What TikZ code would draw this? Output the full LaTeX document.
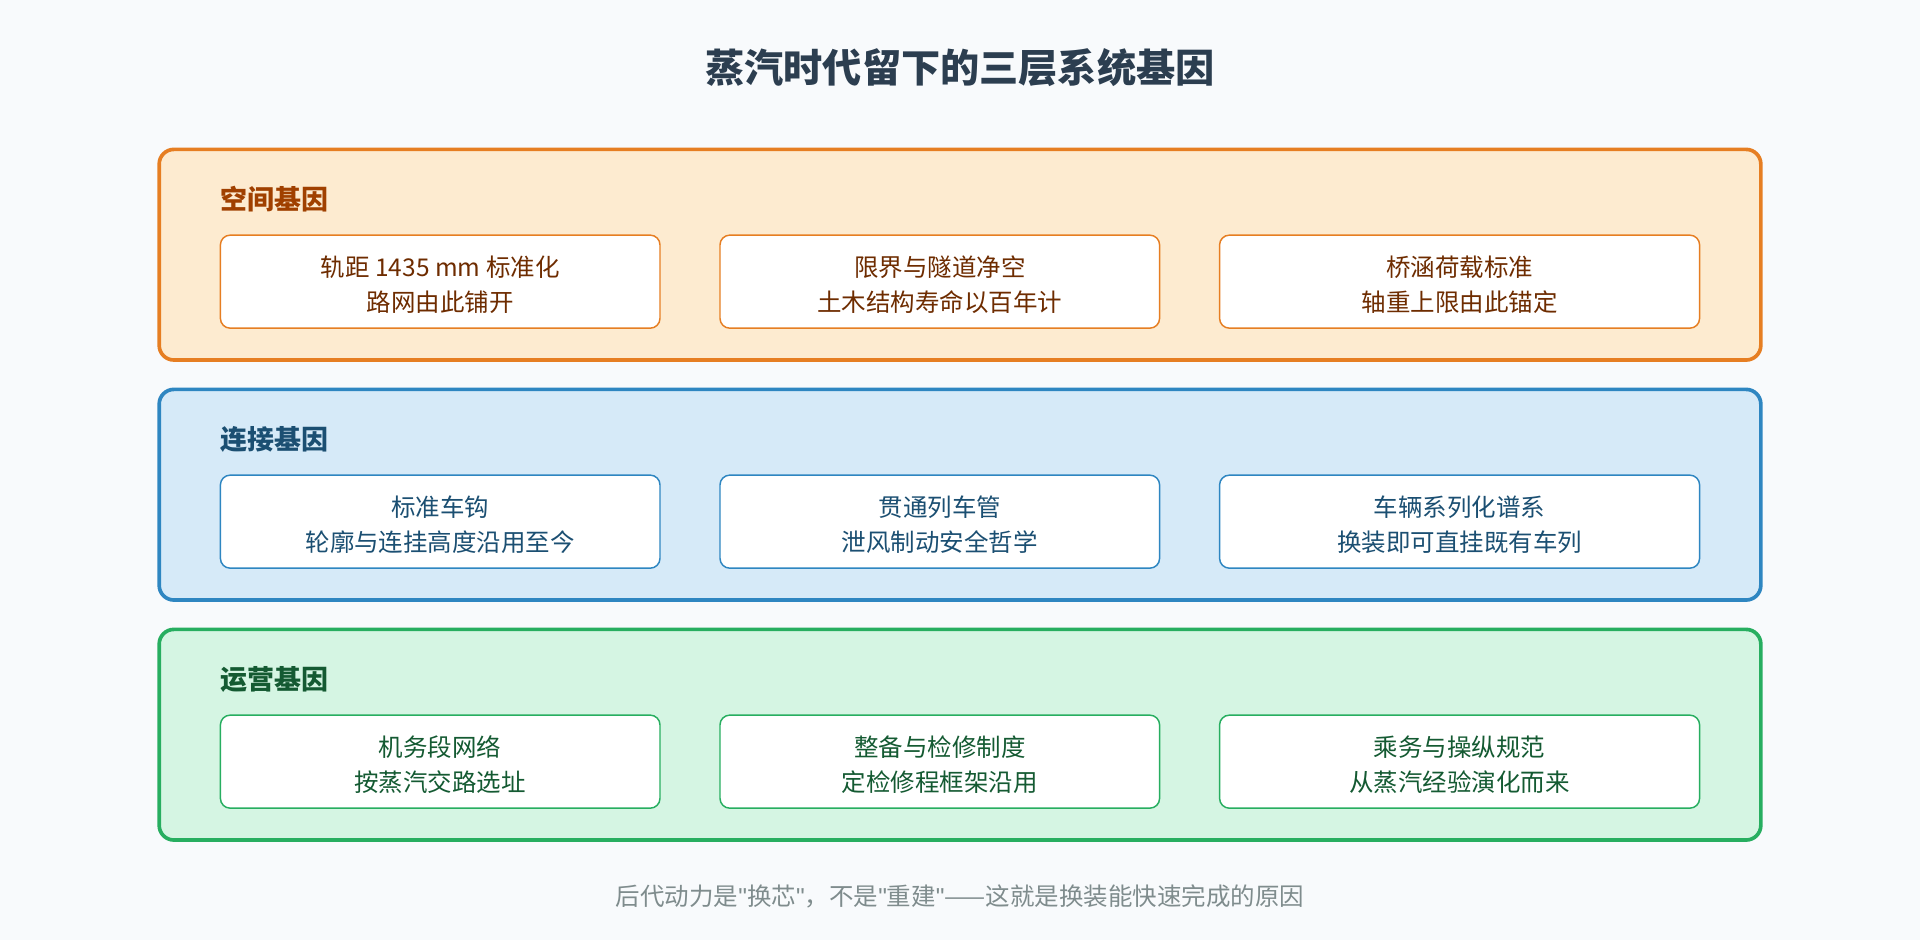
\documentclass[tikz,border=0pt]{standalone}
\usepackage{fontspec}
\setmainfont{Noto Sans CJK SC}
\newfontfamily\latinf{Liberation Sans}
\definecolor{bgc}{HTML}{F8FAFC}
\definecolor{titlec}{HTML}{2C3E50}
\definecolor{orb}{HTML}{E67E22}
\definecolor{orf}{HTML}{FDEBD0}
\definecolor{ort}{HTML}{A04000}
\definecolor{orx}{HTML}{6E2C00}
\definecolor{blb}{HTML}{2E86C1}
\definecolor{blf}{HTML}{D6EAF8}
\definecolor{blt}{HTML}{1B4F72}
\definecolor{grb}{HTML}{27AE60}
\definecolor{grf}{HTML}{D5F5E3}
\definecolor{grt}{HTML}{145A32}
\definecolor{footc}{HTML}{7F8C8D}
\newcommand{\qt}{{\latinf"}}
\tikzset{
  panel/.style={draw=#1, line width=1.5pt, rounded corners=6pt},
  item/.style={draw=#1, fill=white, line width=0.6pt, rounded corners=4pt},
  plabel/.style={anchor=west, font=\bfseries\fontsize{11}{13}\selectfont},
  itext/.style={font=\fontsize{10}{12}\selectfont},
}
\begin{document}
\begin{tikzpicture}[x=0.5pt,y=-0.5pt]
    \fill[bgc] (0,0) rectangle (1568,768);
    \node[font=\bfseries\fontsize{16}{19}\selectfont, text=titlec] (title) at (784,55) {蒸汽时代留下的三层系统基因};

    % panels
    \draw[panel=orb, fill=orf] (130,122) rectangle (1438,294);
    \draw[panel=blb, fill=blf] (130,318) rectangle (1438,490);
    \draw[panel=grb, fill=grf] (130,514) rectangle (1438,686);
    \node[plabel, text=ort] (space) at (173,163) {空间基因};
    \node[plabel, text=blt] (link) at (173,359) {连接基因};
    \node[plabel, text=grt] (oper) at (173,555) {运营基因};

    % space row
    \draw[item=orb] (180,192) rectangle (539,268);
    \draw[item=orb] (588,192) rectangle (947,268);
    \draw[item=orb] (996,192) rectangle (1388,268);
    \node[itext, text=orx] (s1a) at (359.5,218) {轨距 1435 mm 标准化};
    \node[itext, text=orx] (s1b) at (359.5,247) {路网由此铺开};
    \node[itext, text=orx] (s2a) at (767.5,218) {限界与隧道净空};
    \node[itext, text=orx] (s2b) at (767.5,247) {土木结构寿命以百年计};
    \node[itext, text=orx] (s3a) at (1192,218) {桥涵荷载标准};
    \node[itext, text=orx] (s3b) at (1192,247) {轴重上限由此锚定};

    % link row
    \draw[item=blb] (180,388) rectangle (539,464);
    \draw[item=blb] (588,388) rectangle (947,464);
    \draw[item=blb] (996,388) rectangle (1388,464);
    \node[itext, text=blt] (l1a) at (359.5,414) {标准车钩};
    \node[itext, text=blt] (l1b) at (359.5,443) {轮廓与连挂高度沿用至今};
    \node[itext, text=blt] (l2a) at (767.5,414) {贯通列车管};
    \node[itext, text=blt] (l2b) at (767.5,443) {泄风制动安全哲学};
    \node[itext, text=blt] (l3a) at (1192,414) {车辆系列化谱系};
    \node[itext, text=blt] (l3b) at (1192,443) {换装即可直挂既有车列};

    % operation row
    \draw[item=grb] (180,584) rectangle (539,660);
    \draw[item=grb] (588,584) rectangle (947,660);
    \draw[item=grb] (996,584) rectangle (1388,660);
    \node[itext, text=grt] (o1a) at (359.5,610) {机务段网络};
    \node[itext, text=grt] (o1b) at (359.5,639) {按蒸汽交路选址};
    \node[itext, text=grt] (o2a) at (767.5,610) {整备与检修制度};
    \node[itext, text=grt] (o2b) at (767.5,639) {定检修程框架沿用};
    \node[itext, text=grt] (o3a) at (1192,610) {乘务与操纵规范};
    \node[itext, text=grt] (o3b) at (1192,639) {从蒸汽经验演化而来};

    \node[font=\fontsize{10}{12}\selectfont, text=footc] (foot) at (784,732) {后代动力是\qt 换芯\qt ，不是\qt 重建\qt ——这就是换装能快速完成的原因};
\end{tikzpicture}
\end{document}
